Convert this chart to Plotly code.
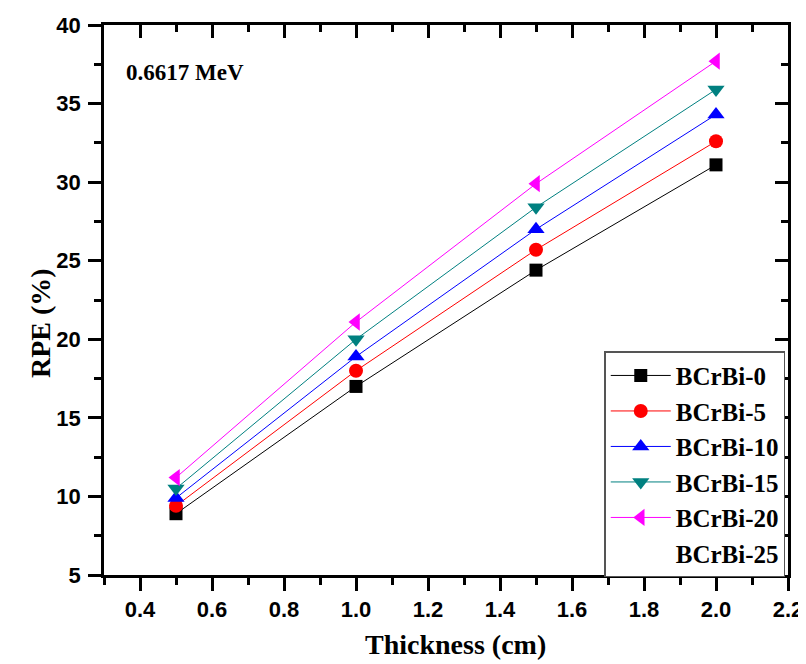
import plotly.graph_objects as go

thickness = [0.5, 1.0, 1.5, 2.0]
series_names = ["BCrBi-0", "BCrBi-5", "BCrBi-10", "BCrBi-15", "BCrBi-20"]
rpe_0 = [8.9, 17.0, 24.4, 31.1]
rpe_5 = [9.4, 18.0, 25.7, 32.6]
rpe_10 = [9.9, 18.9, 27.0, 34.3]
rpe_15 = [10.5, 20.0, 28.4, 35.9]
rpe_20 = [11.2, 21.1, 29.9, 37.7]
extra_name = "BCrBi-25"
x_ticks = [0.4, 0.6, 0.8, 1.0, 1.2, 1.4, 1.6, 1.8, 2.0, 2.2]
y_ticks = [5, 10, 15, 20, 25, 30, 35, 40]

values = [rpe_0, rpe_5, rpe_10, rpe_15, rpe_20]
colors = ["#000000", "#FF0000", "#0000FF", "#008080", "#FF00FF"]
symbols = ["square", "circle", "triangle-up", "triangle-down", "triangle-left"]
sizes = [13, 14, 15, 15, 15]

fig = go.Figure()
for i, (name, v) in enumerate(zip(series_names, values)):
    fig.add_trace(go.Scatter(
        x=thickness, y=v, name=name, mode="lines+markers",
        line=dict(color=colors[i], width=1),
        marker=dict(symbol=symbols[i], size=sizes[i], color=colors[i]),
        legendgroup=name,
    ))
fig.add_trace(go.Scatter(x=[None], y=[None], name=extra_name, mode="lines",
                         line=dict(color="rgba(0,0,0,0)", width=0), legendgroup=extra_name))

tickfont = dict(family="Liberation Sans", size=22, color="black", weight="bold")
titlefont = dict(family="Liberation Serif", size=28, color="black", weight="bold")
common = dict(tickwidth=2.5, tickcolor="black", showline=True, linewidth=2.5, linecolor="black",
              showgrid=False, zeroline=False, automargin=False)
fig.update_layout(
    width=798, height=656,
    margin=dict(l=96, r=18, t=17, b=89),
    plot_bgcolor="white", paper_bgcolor="white",
    showlegend=True,
    legend=dict(x=0.996, y=-0.004, xanchor="right", yanchor="bottom",
                bordercolor="#555555", borderwidth=1.5, bgcolor="white",
                font=dict(family="Liberation Serif", size=25, color="black", weight="bold"),
                tracegroupgap=0, itemwidth=60),
    xaxis=dict(range=[0.3, 2.2], tickmode="array", tickvals=x_ticks,
               ticktext=["<b>%.1f</b>" % t for t in x_ticks],
               ticks="outside", ticklen=13,
               minor=dict(dtick=0.1, ticks="outside", ticklen=7, tickwidth=2.5, tickcolor="black"),
               tickfont=tickfont, **common),
    yaxis=dict(range=[5, 40], tickmode="array", tickvals=y_ticks,
               ticktext=["<b>%d</b>" % t for t in y_ticks],
               ticks="outside", ticklen=13, ticklabelstandoff=3,
               minor=dict(dtick=2.5, ticks="outside", ticklen=7, tickwidth=2.5, tickcolor="black"),
               tickfont=tickfont, **common),
    xaxis2=dict(overlaying="x", side="top", range=[0.3, 2.2], matches="x",
                tickvals=x_ticks, showticklabels=False,
                ticks="inside", ticklen=13,
                minor=dict(dtick=0.1, ticks="inside", ticklen=7, tickwidth=2.5, tickcolor="black"),
                **common),
    yaxis2=dict(overlaying="y", side="right", range=[5, 40], matches="y",
                tickvals=y_ticks, showticklabels=False,
                ticks="inside", ticklen=13,
                minor=dict(dtick=2.5, ticks="inside", ticklen=7, tickwidth=2.5, tickcolor="black"),
                **common),
    annotations=[
        dict(x=0.029, y=0.913, xref="paper", yref="paper", xanchor="left", yanchor="middle",
             text="0.6617 MeV", showarrow=False,
             font=dict(family="Liberation Serif", size=23, color="black", weight="bold")),
        dict(x=0.514, y=-0.127, xref="paper", yref="paper", xanchor="center", yanchor="middle",
             text="Thickness (cm)", showarrow=False, font=titlefont),
        dict(x=-0.0936, y=0.458, xref="paper", yref="paper", xanchor="center", yanchor="middle",
             text="RPE (%)", textangle=-90, showarrow=False, font=titlefont),
    ],
)
fig.add_trace(go.Scatter(x=[None], y=[None], xaxis="x2", yaxis="y2", showlegend=False, hoverinfo="skip"))
fig.write_html("out.html")
